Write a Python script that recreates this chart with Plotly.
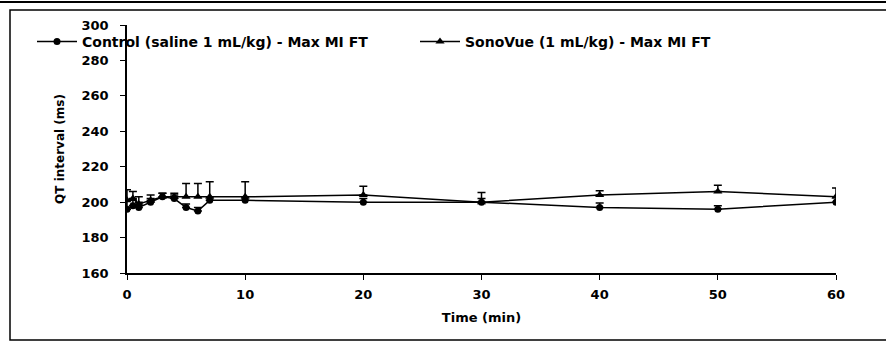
import plotly.graph_objects as go

time_min = [0, 0.5, 1, 2, 3, 4, 5, 6, 7, 10, 20, 30, 40, 50, 60]
control_qt = [196, 198, 197, 200, 203, 202, 197, 195, 201, 201, 200, 200, 197, 196, 200]
control_err = [5, 3, 3, 2, 2, 2, 2, 2, 2, 2, 2, 2, 2.5, 2, 3]
sonovue_qt = [201, 202, 199, 201, 203, 203, 203, 203, 203, 203, 204, 200, 204, 206, 203]
sonovue_err = [6, 4, 4, 3, 2, 2, 7.5, 7.5, 8.5, 8.5, 5, 5.5, 2.5, 3.5, 5]
y_ticks = [160, 180, 200, 220, 240, 260, 280, 300]
x_ticks = [0, 10, 20, 30, 40, 50, 60]

FONT = "DejaVu Sans"

fig = go.Figure()
fig.add_trace(go.Scatter(
    x=time_min, y=control_qt, mode="lines+markers",
    name="Control (saline 1 mL/kg) - Max MI FT", legend="legend",
    line=dict(color="black", width=1.5),
    marker=dict(symbol="circle", size=7, color="black"),
    error_y=dict(type="data", array=control_err, arrayminus=[0] * len(control_err),
                 symmetric=False, color="black", thickness=1.5, width=4),
))
fig.add_trace(go.Scatter(
    x=time_min, y=sonovue_qt, mode="lines+markers",
    name="SonoVue (1 mL/kg) - Max MI FT", legend="legend2",
    line=dict(color="black", width=1.5),
    marker=dict(symbol="triangle-up", size=8, color="black"),
    error_y=dict(type="data", array=sonovue_err, arrayminus=[0] * len(sonovue_err),
                 symmetric=False, color="black", thickness=1.5, width=4),
))

L, R, T, B = 127, 50, 25, 70
W, H = 886, 343
pw, ph = W - L - R, H - T - B

def px(x):
    return (x - L) / pw

def py(y):
    return (H - B - y) / ph

leg_common = dict(orientation="h", xref="container", yref="container",
                  y=1 - 42 / H, xanchor="left", yanchor="middle",
                  bgcolor="rgba(0,0,0,0)", font=dict(size=14, family=FONT, weight="bold"),
                  itemwidth=40)

fig.update_layout(
    width=W, height=H,
    margin=dict(l=L, r=R, t=T, b=B, autoexpand=False),
    paper_bgcolor="white", plot_bgcolor="white",
    font=dict(family=FONT, color="black", size=13, weight="bold"),
    showlegend=True,
    legend=dict(x=32 / W, **leg_common),
    legend2=dict(x=415 / W, **leg_common),
    xaxis=dict(range=[0, 60], tickvals=x_ticks, showline=True, linecolor="black", linewidth=1.5,
               ticks="outside", ticklen=5, tickcolor="black", showgrid=False, zeroline=False,
               ticklabelstandoff=4,
               title=dict(text="Time (min)", font=dict(size=13, family=FONT, weight="bold"), standoff=12)),
    yaxis=dict(range=[160, 300], tickvals=y_ticks, showline=True, linecolor="black", linewidth=1.5,
               ticks="outside", ticklen=5, tickcolor="black", showgrid=False, zeroline=False,
               ticklabelstandoff=9,
               title=dict(text="QT interval (ms)", font=dict(size=12, family=FONT, weight="bold"), standoff=14)),
    shapes=[
        dict(type="rect", xref="paper", yref="paper", x0=px(10), x1=px(892), y0=py(340), y1=py(10),
             line=dict(color="black", width=1.5), fillcolor="rgba(0,0,0,0)", layer="below"),
        dict(type="line", xref="paper", yref="paper", x0=px(0), x1=px(886), y0=py(2), y1=py(2),
             line=dict(color="black", width=2)),
    ],
)

fig.write_html("out.html", config={"displayModeBar": False},
               post_script="document.body.style.margin='0';")
